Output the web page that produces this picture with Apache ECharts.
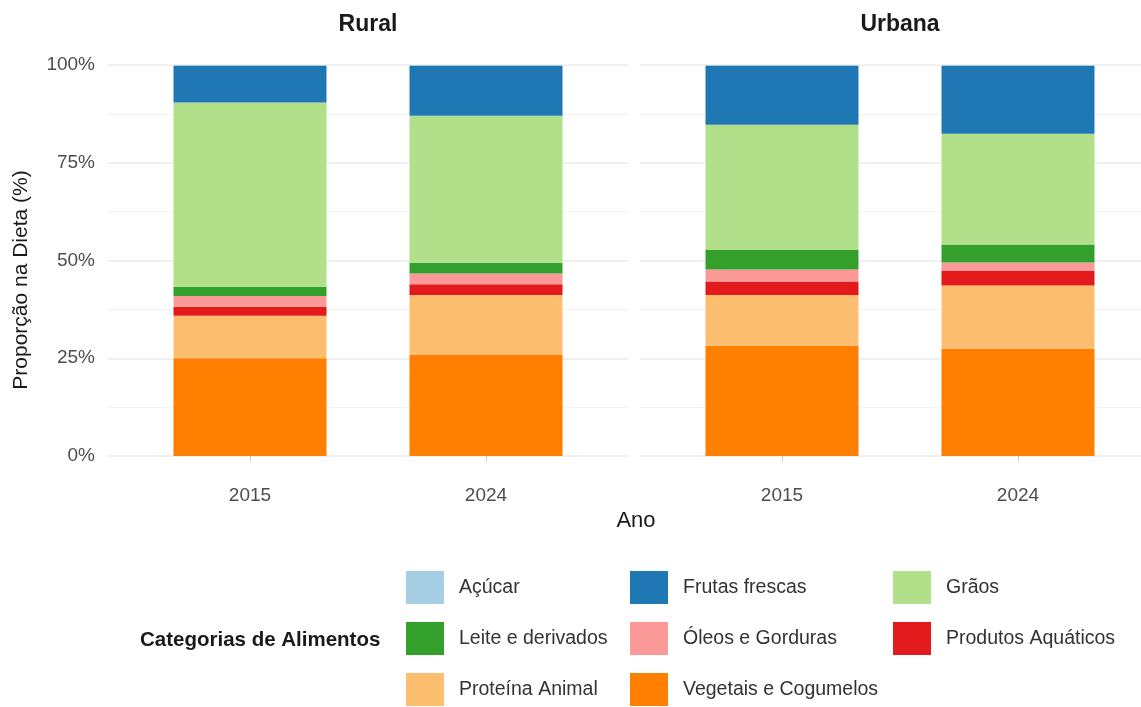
<!DOCTYPE html>
<html>
<head>
<meta charset="utf-8">
<script src="https://cdn.jsdelivr.net/npm/echarts@6/dist/echarts.min.js"></script>
<style>
  html, body { margin: 0; padding: 0; background: #fff; }
  #chart { width: 1141px; height: 707px; }
</style>
</head>
<body>
<div id="chart"></div>
<script>
// facets and years
var facets = ['Rural', 'Urbana']
var years = ['2015', '2024']
var yTicks = ['0%', '25%', '50%', '75%', '100%']

// categories, bottom of stack first
var categories = ['Vegetais e Cogumelos', 'Proteína Animal', 'Produtos Aquáticos', 'Óleos e Gorduras',
  'Leite e derivados', 'Grãos', 'Frutas frescas', 'Açúcar']
var colors = ['#FF7F00', '#FDBF6F', '#E31A1C', '#FB9A99', '#33A02C', '#B2DF8A', '#1F78B4', '#A6CEE3']

// share (%) per category, [2015, 2024]
var rural = {
  'Vegetais e Cogumelos': [25.0, 25.8],
  'Proteína Animal': [10.9, 15.4],
  'Produtos Aquáticos': [2.3, 2.7],
  'Óleos e Gorduras': [2.7, 2.8],
  'Leite e derivados': [2.4, 2.7],
  'Grãos': [47.1, 37.6],
  'Frutas frescas': [9.4, 12.8],
  'Açúcar': [0.2, 0.2]
}
var urbana = {
  'Vegetais e Cogumelos': [28.2, 27.5],
  'Proteína Animal': [13.0, 16.1],
  'Produtos Aquáticos': [3.4, 3.7],
  'Óleos e Gorduras': [3.1, 2.2],
  'Leite e derivados': [5.0, 4.6],
  'Grãos': [32.0, 28.3],
  'Frutas frescas': [15.1, 17.4],
  'Açúcar': [0.2, 0.2]
}

// legend order (ggplot fills row-wise over 3 columns)
var legendOrder = ['Açúcar', 'Frutas frescas', 'Grãos', 'Leite e derivados', 'Óleos e Gorduras',
  'Produtos Aquáticos', 'Proteína Animal', 'Vegetais e Cogumelos']

var gridCol = '#ebebeb'
var font = 'Liberation Sans'
// panel background (gridlines) and bar area (two bands of 236px)
var panels = [{ left: 108, barLeft: 132, data: rural }, { left: 640, barLeft: 664, data: urbana }]

var grids = []
var xAxes = []
var yAxes = []
panels.forEach(function (p, i) {
  // background panel: only the horizontal gridlines
  grids.push({ left: p.left, width: 520, top: 65, height: 391 })
  xAxes.push({ type: 'value', gridIndex: i, min: 0, max: 1, show: false })
  yAxes.push({
    type: 'value', gridIndex: i, min: 0, max: 100, interval: 25,
    axisLine: { show: false }, axisTick: { show: false },
    axisLabel: {
      show: i === 0,
      formatter: function (v) { return yTicks[v / 25] },
      color: '#4d4d4d', fontSize: 19, margin: 13, fontFamily: font
    },
    splitLine: { show: true, lineStyle: { color: gridCol, width: 1.5 } },
    minorTick: { show: false, splitNumber: 2 },
    minorSplitLine: { show: true, lineStyle: { color: '#f2f2f2', width: 1 } }
  })
})
panels.forEach(function (p, i) {
  grids.push({ left: p.barLeft, width: 472, top: 65, height: 391 })
  xAxes.push({
    type: 'category', gridIndex: 2 + i, data: years,
    axisLine: { show: false },
    axisTick: { show: true, alignWithLabel: true, length: 5, lineStyle: { color: '#cccccc' } },
    axisLabel: { color: '#4d4d4d', fontSize: 19, margin: 30, fontFamily: font },
    splitLine: { show: false }
  })
  yAxes.push({
    type: 'value', gridIndex: 2 + i, min: 0, max: 100, interval: 25,
    show: false, splitLine: { show: false }
  })
})

var series = []
panels.forEach(function (p, i) {
  categories.forEach(function (c, k) {
    series.push({
      name: c,
      type: 'bar',
      stack: 'f' + i,
      xAxisIndex: 2 + i,
      yAxisIndex: 2 + i,
      barWidth: 153,
      itemStyle: { color: colors[k] },
      emphasis: { disabled: true },
      data: p.data[c]
    })
  })
})

var legendCols = [[0, 3, 6], [1, 4, 7], [2, 5]]
var legendLefts = [406, 630, 893]
var legends = legendCols.map(function (idx, n) {
  return {
    orient: 'vertical',
    left: legendLefts[n],
    top: 571,
    padding: 0,
    itemWidth: 38,
    itemHeight: 33,
    itemGap: 18,
    icon: 'rect',
    data: idx.map(function (q) { return legendOrder[q] }),
    textStyle: { color: '#333', fontSize: 19.5, fontFamily: font, padding: [0, 0, 0, 10] },
    selectedMode: false
  }
})

var chart = echarts.init(document.getElementById('chart'))
chart.setOption({
  backgroundColor: '#ffffff',
  animation: false,
  grid: grids,
  xAxis: xAxes,
  yAxis: yAxes,
  legend: legends,
  series: series,
  graphic: [
    { type: 'text', x: 368, y: 25, style: { text: 'Rural', font: 'bold 23px ' + font, fill: '#1a1a1a', align: 'center', verticalAlign: 'middle' } },
    { type: 'text', x: 900, y: 25, style: { text: 'Urbana', font: 'bold 23px ' + font, fill: '#1a1a1a', align: 'center', verticalAlign: 'middle' } },
    { type: 'text', x: 636, y: 521, style: { text: 'Ano', font: '22px ' + font, fill: '#1a1a1a', align: 'center', verticalAlign: 'middle' } },
    { type: 'text', x: 11, y: 280, rotation: Math.PI / 2, style: { text: 'Proporção na Dieta (%)', font: '21px ' + font, fill: '#1a1a1a', align: 'center', verticalAlign: 'top' } },
    { type: 'text', x: 140, y: 640, style: { text: 'Categorias de Alimentos', font: 'bold 20.5px ' + font, fill: '#1a1a1a', verticalAlign: 'middle' } }
  ]
})
</script>
</body>
</html>
